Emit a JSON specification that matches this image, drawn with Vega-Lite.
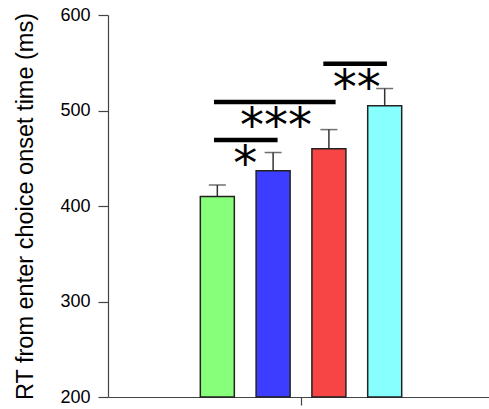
{
  "$schema": "https://vega.github.io/schema/vega-lite/v6.json",
  "width": 381,
  "height": 382,
  "autosize": {"type": "none"},
  "padding": {"left": 108, "top": 15, "right": 0, "bottom": 12},
  "config": {
    "view": {"stroke": null},
    "font": "Liberation Sans",
    "axis": {"grid": false, "domainColor": "#444", "tickColor": "#444", "labelColor": "#000", "titleColor": "#000"}
  },
  "datasets": {
    "bars": [
      {"cond": "A", "pos": 1, "mean": 410, "upper": 422, "color": "#88ff7a"},
      {"cond": "B", "pos": 2, "mean": 437, "upper": 456, "color": "#3d3dff"},
      {"cond": "C", "pos": 3, "mean": 460, "upper": 480, "color": "#f74444"},
      {"cond": "D", "pos": 4, "mean": 505, "upper": 523, "color": "#88ffff"}
    ],
    "sig": [
      {"from": 0.94, "to": 2.08, "mid": 1.5, "y": 469, "label": "*"},
      {"from": 0.94, "to": 3.12, "mid": 2.05, "y": 509, "label": "***"},
      {"from": 2.9, "to": 4.04, "mid": 3.5, "y": 549, "label": "**"}
    ]
  },
  "layer": [
    {
      "data": {"name": "bars"},
      "mark": {"type": "rule", "color": "#333", "strokeWidth": 1.5},
      "encoding": {
        "x": {"field": "pos", "type": "quantitative", "scale": {"domain": [-0.87, 5.78], "nice": false, "zero": false},
          "axis": {"values": [2.5], "labels": false, "title": null, "tickSize": 8, "domainWidth": 1.2, "tickWidth": 1.2}},
        "y": {"field": "mean", "type": "quantitative", "scale": {"domain": [200, 600], "nice": false, "zero": false},
          "axis": {"values": [200, 300, 400, 500, 600], "tickSize": 10, "labelPadding": 8, "labelFontSize": 18,
            "title": "RT from enter choice onset time (ms)", "titleFontSize": 23.5, "titleFontWeight": "normal", "titlePadding": 22,
            "domainWidth": 1.2, "tickWidth": 1.2}},
        "y2": {"field": "upper"}
      }
    },
    {
      "data": {"name": "bars"},
      "mark": {"type": "tick", "orient": "horizontal", "color": "#333", "size": 17, "thickness": 1.5},
      "encoding": {
        "x": {"field": "pos", "type": "quantitative"},
        "y": {"field": "upper", "type": "quantitative"}
      }
    },
    {
      "data": {"name": "bars"},
      "mark": {"type": "bar", "size": 34, "stroke": "#222", "strokeWidth": 1.5},
      "encoding": {
        "x": {"field": "pos", "type": "quantitative"},
        "y": {"field": "mean", "type": "quantitative"},
        "y2": {"datum": 200},
        "fill": {"field": "color", "type": "nominal", "scale": null, "legend": null}
      }
    },
    {
      "data": {"name": "sig"},
      "mark": {"type": "rule", "color": "#000", "strokeWidth": 4.5},
      "encoding": {
        "x": {"field": "from", "type": "quantitative"},
        "x2": {"field": "to"},
        "y": {"field": "y", "type": "quantitative"}
      }
    },
    {
      "data": {"name": "sig"},
      "mark": {"type": "text", "font": "DejaVu Sans", "fontSize": 48, "baseline": "alphabetic", "align": "center", "dy": 40, "color": "#000"},
      "encoding": {
        "x": {"field": "mid", "type": "quantitative"},
        "y": {"field": "y", "type": "quantitative"},
        "text": {"field": "label"}
      }
    }
  ]
}
